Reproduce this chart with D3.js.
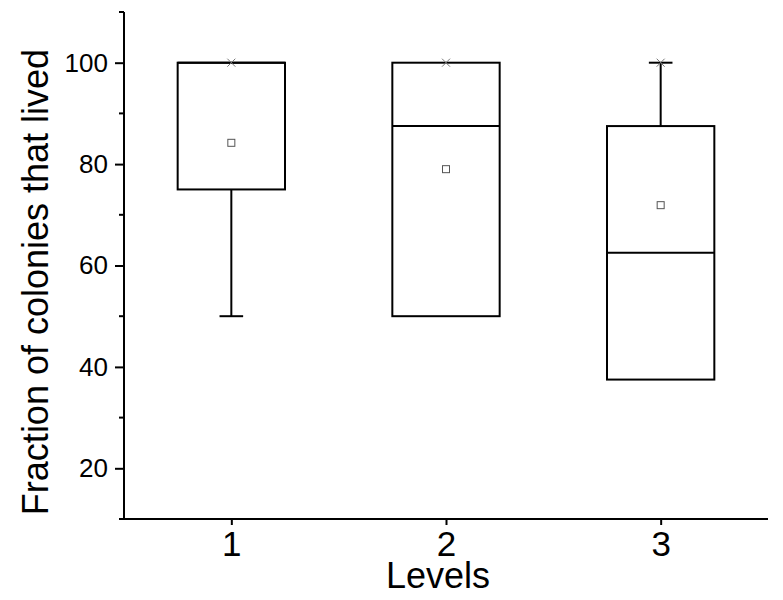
<!DOCTYPE html>
<html>
<head>
<meta charset="utf-8">
<script src="https://cdn.jsdelivr.net/npm/d3@7"></script>
<style>
  body { margin: 0; background: #fff; }
  svg { display: block; font-family: Arial, "Liberation Sans", sans-serif; }
</style>
</head>
<body>
<div id="chart"></div>
<script>
// data
const levels = [1, 2, 3]
const q1 = [75, 50, 37.5]
const medians = [100, 87.5, 62.5]
const q3 = [100, 100, 87.5]
const whiskerLow = [50, 50, 37.5]
const whiskerHigh = [100, 100, 100]
const means = [84.2, 79.0, 71.9]
const maxes = [100, 100, 100]
const yMajor = [20, 40, 60, 80, 100]
const yMinor = [10, 30, 50, 70, 90, 110]

const width = 783, height = 600

const x = d3.scaleLinear().domain([0.5, 3.5]).range([124, 768])
const y = d3.scaleLinear().domain([10, 110]).range([519, 12])

const boxW = x(1.25) - x(1)      // half width
const capW = x(0.055) - x(0)

const svg = d3.select('#chart').append('svg')
  .attr('width', width).attr('height', height)

//=========== axes ===========
const yAxis = svg.append('g').attr('transform', `translate(${x(0.5)},0)`)
  .call(d3.axisLeft(y).tickValues(yMajor).tickSize(9).tickPadding(7).tickFormat(d3.format('d')))
yAxis.select('.domain').attr('d', `M0,${y(110)}V${y(10)}`)
yAxis.selectAll('line, path').attr('stroke', '#000').attr('stroke-width', 2)
yAxis.selectAll('text').attr('font-size', 26).attr('font-family', 'Arial, "Liberation Sans", sans-serif').attr('fill', '#000')

yAxis.selectAll('.minor').data(yMinor).enter().append('line')
  .attr('class', 'minor')
  .attr('x1', -5).attr('x2', 0)
  .attr('y1', d => y(d)).attr('y2', d => y(d))
  .attr('stroke', '#000').attr('stroke-width', 2)

const xAxis = svg.append('g').attr('transform', `translate(0,${y(10)})`)
  .call(d3.axisBottom(x).tickValues(levels).tickSize(6).tickPadding(6).tickFormat(d3.format('d')))
xAxis.select('.domain').attr('d', `M${x(0.5) - 4},0H${x(3.5)}`)
xAxis.selectAll('line, path').attr('stroke', '#000').attr('stroke-width', 2)
xAxis.selectAll('text').attr('font-size', 35).attr('font-family', 'Arial, "Liberation Sans", sans-serif').attr('fill', '#000')

svg.append('text')
  .attr('x', 438).attr('y', 588)
  .attr('text-anchor', 'middle')
  .attr('font-size', 36)
  .text('Levels')

svg.append('text')
  .attr('transform', 'translate(48,282) rotate(-90)')
  .attr('text-anchor', 'middle')
  .attr('font-size', 36)
  .text('Fraction of colonies that lived')

//=========== boxes ===========
const groups = svg.append('g').selectAll('g')
  .data(levels.map((lv, i) => ({lv, i})))
  .enter().append('g')

// whiskers (only where they stick out of the box)
groups.each(function (d) {
  const g = d3.select(this), i = d.i, cx = x(d.lv)
  if (whiskerHigh[i] > q3[i]) {
    g.append('line').attr('x1', cx).attr('x2', cx)
      .attr('y1', y(q3[i])).attr('y2', y(whiskerHigh[i]))
    g.append('line').attr('x1', cx - capW).attr('x2', cx + capW)
      .attr('y1', y(whiskerHigh[i])).attr('y2', y(whiskerHigh[i]))
  }
  if (whiskerLow[i] < q1[i]) {
    g.append('line').attr('x1', cx).attr('x2', cx)
      .attr('y1', y(q1[i])).attr('y2', y(whiskerLow[i]))
    g.append('line').attr('x1', cx - capW).attr('x2', cx + capW)
      .attr('y1', y(whiskerLow[i])).attr('y2', y(whiskerLow[i]))
  }
})

groups.append('rect')
  .attr('x', d => x(d.lv) - boxW)
  .attr('width', boxW * 2)
  .attr('y', d => y(q3[d.i]))
  .attr('height', d => y(q1[d.i]) - y(q3[d.i]))
  .attr('fill', 'none')

groups.append('line')
  .attr('x1', d => x(d.lv) - boxW).attr('x2', d => x(d.lv) + boxW)
  .attr('y1', d => y(medians[d.i])).attr('y2', d => y(medians[d.i]))

groups.selectAll('line, rect').attr('stroke', '#000').attr('stroke-width', 2)

// mean squares
groups.append('rect')
  .attr('x', d => x(d.lv) - 3.5).attr('y', d => y(means[d.i]) - 3.5)
  .attr('width', 7).attr('height', 7)
  .attr('fill', '#fff').attr('stroke', '#555').attr('stroke-width', 1)

// max crosses
groups.append('path')
  .attr('d', d => {
    const cx = x(d.lv), cy = y(maxes[d.i]), s = 4
    return `M${cx - s},${cy - s}L${cx + s},${cy + s}M${cx - s},${cy + s}L${cx + s},${cy - s}`
  })
  .attr('stroke', '#777').attr('stroke-width', 1).attr('fill', 'none')
</script>
</body>
</html>
